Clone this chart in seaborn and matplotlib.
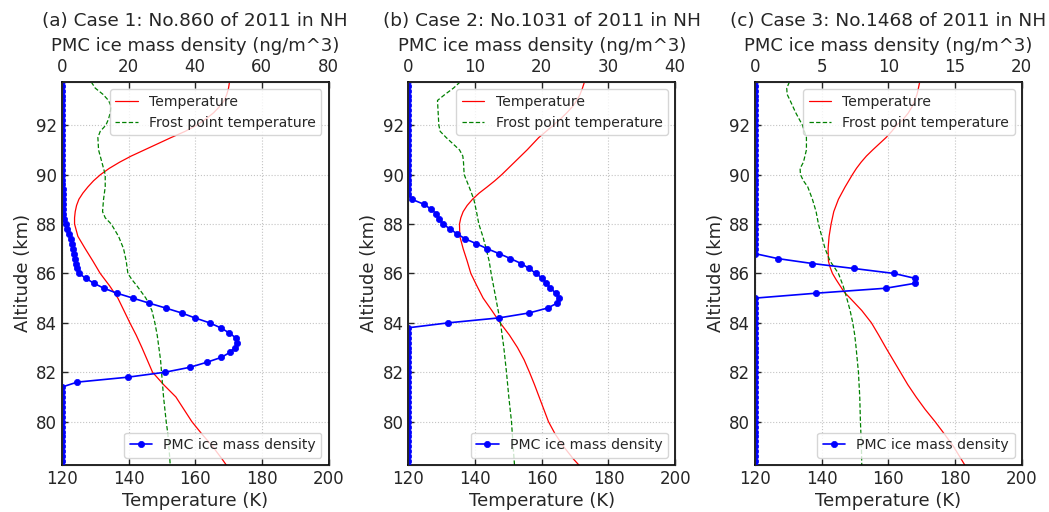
import numpy as np
import pandas as pd
import matplotlib
matplotlib.use("Agg")
import matplotlib.pyplot as plt
import seaborn as sns

# ---------------------------------------------------------------- data
titles = [
    "(a) Case 1: No.860 of 2011 in NH",
    "(b) Case 2: No.1031 of 2011 in NH",
    "(c) Case 3: No.1468 of 2011 in NH",
]
ice_xmax = [80, 40, 20]
ice_xticks = [[0, 20, 40, 60, 80], [0, 10, 20, 30, 40], [0, 5, 10, 15, 20]]
temp_xticks = [120, 140, 160, 180, 200]
alt_ticks = [80, 82, 84, 86, 88, 90, 92]

# Case 1 temperature profile (K)
alt_t1 = [93.75, 93.5, 93.25, 93.0, 92.75, 92.5, 92.25, 92.0, 91.75, 91.5, 91.25, 91.0,
          90.75, 90.5, 90.25, 90.0, 89.75, 89.5, 89.25, 89.0, 88.75, 88.5, 88.25,
          88.0, 87.5, 87.0, 86.5, 86.0, 85.5, 85.0, 84.5, 84.0, 83.5, 83.0, 82.5,
          82.0, 81.5, 81.0, 80.5, 80.0, 79.5, 79.0, 78.5, 78.25]
temp1 = [170.3, 170.0, 169.5, 168.7, 167.3, 165.5, 163.2, 160.5, 157.0, 152.8, 148.8, 144.8,
         140.8, 137.3, 134.2, 131.6, 129.5, 127.8, 126.3, 125.1, 124.4, 124.0, 123.8,
         123.8, 124.8, 127.0, 129.3, 131.5, 134.3, 136.8, 138.6, 140.4, 142.3, 144.0, 145.6,
         147.2, 150.5, 154.2, 156.6, 159.0, 162.0, 165.2, 168.0, 169.3]
# Case 1 frost point temperature (K)
alt_f1 = [93.75, 93.5, 93.25, 93.0, 92.75, 92.5, 92.25, 92.0, 91.75, 91.5, 91.0, 90.5,
          90.0, 89.5, 89.0, 88.5, 88.25, 88.0, 87.5, 87.0, 86.5, 86.0, 85.75, 85.5,
          85.0, 84.5, 84.0, 83.5, 83.0, 82.5, 82.0, 81.5, 81.0, 80.5, 80.0, 79.5,
          79.0, 78.25]
frost1 = [128.8, 130.0, 132.3, 134.0, 134.8, 134.5, 134.0, 133.2, 131.5, 130.8, 131.0, 132.0,
          133.0, 133.0, 132.5, 132.2, 133.0, 134.8, 137.0, 138.5, 139.3, 139.8, 141.0, 142.5,
          145.2, 147.0, 147.9, 148.6, 149.1, 149.6, 149.9, 150.2, 150.5, 150.9, 151.3, 151.8,
          152.1, 152.5]
# Case 1 PMC ice mass density (ng/m^3), non-zero part of the profile
alt_i1 = [81.6, 81.8, 82.0, 82.2, 82.4, 82.6, 82.8, 83.0, 83.2, 83.4, 83.6, 83.8,
          84.0, 84.2, 84.4, 84.6, 84.8, 85.0, 85.2, 85.4, 85.6, 85.8, 86.0, 86.2,
          86.4, 86.6, 86.8, 87.0, 87.2, 87.4, 87.6, 87.8, 88.0, 88.2, 88.4, 88.6,
          88.8, 89.0, 89.2, 89.4, 89.6, 89.8]
ice1 = [4.6, 19.8, 30.9, 38.4, 43.4, 47.8, 50.4, 51.9, 52.6, 52.1, 50.1, 47.6,
        44.3, 39.9, 35.9, 31.1, 26.1, 21.3, 16.5, 12.6, 9.6, 7.2, 5.1, 4.6,
        4.3, 4.0, 3.7, 3.4, 3.0, 2.6, 2.1, 1.6, 1.1, 0.6, 0.4, 0.3,
        0.3, 0.2, 0.2, 0.2, 0.1, 0.1]

# Case 2 temperature profile (K)
alt_t2 = [93.75, 93.5, 93.25, 93.0, 92.75, 92.5, 92.25, 92.0, 91.5, 91.0, 90.5, 90.0,
          89.75, 89.5, 89.25, 89.0, 88.75, 88.5, 88.25, 88.0, 87.5, 87.0, 86.5, 86.0,
          85.5, 85.0, 84.5, 84.0, 83.5, 83.0, 82.5, 82.0, 81.5, 81.0, 80.5, 80.0,
          79.5, 79.0, 78.5, 78.25]
temp2 = [172.8, 172.2, 171.5, 170.5, 169.2, 167.5, 165.6, 163.5, 159.1, 155.6, 151.8, 148.0,
         145.9, 143.6, 141.2, 139.2, 137.6, 136.4, 135.7, 135.3, 135.4, 136.4, 137.6, 138.7,
         140.5, 142.4, 145.0, 147.5, 150.3, 152.7, 154.7, 156.3, 157.8, 159.2, 160.6, 162.0,
         164.0, 166.5, 169.4, 171.1]
# Case 2 frost point temperature (K)
alt_f2 = [93.75, 93.5, 93.25, 93.0, 92.5, 92.0, 91.75, 91.5, 91.0, 90.75, 90.5, 90.0,
          89.5, 89.0, 88.5, 88.0, 87.5, 87.0, 86.5, 86.0, 85.0, 84.0, 83.0, 82.0,
          81.0, 80.0, 79.0, 78.25]
frost2 = [135.5, 133.5, 131.0, 128.7, 128.9, 129.1, 129.5, 131.3, 135.3, 136.3, 136.5, 136.7,
          138.2, 139.6, 140.4, 141.1, 142.3, 143.3, 144.2, 144.8, 146.2, 147.6, 148.6, 149.4,
          150.1, 150.9, 151.4, 151.8]
# Case 2 PMC ice mass density (ng/m^3)
alt_i2 = [84.0, 84.2, 84.4, 84.6, 84.8, 85.0, 85.2, 85.4, 85.6, 85.8, 86.0, 86.2,
          86.4, 86.6, 86.8, 87.0, 87.2, 87.4, 87.6, 87.8, 88.0, 88.2, 88.4, 88.6,
          88.8, 89.0]
ice2 = [6.0, 13.6, 18.1, 20.9, 22.3, 22.6, 22.1, 21.3, 20.7, 20.1, 19.1, 18.1,
        16.9, 15.3, 13.6, 11.8, 10.2, 8.5, 7.3, 6.2, 5.2, 4.6, 4.2, 3.4,
        2.3, 0.5]

# Case 3 temperature profile (K)
alt_t3 = [93.75, 93.5, 93.25, 93.0, 92.75, 92.5, 92.25, 92.0, 91.75, 91.5, 91.25, 91.0,
          90.75, 90.5, 90.25, 90.0, 89.5, 89.0, 88.5, 88.0, 87.5, 87.0, 86.5, 86.25,
          86.0, 85.75, 85.5, 85.25, 85.0, 84.5, 84.0, 83.5, 83.0, 82.5, 82.0, 81.5,
          81.0, 80.5, 80.0, 79.5, 79.0, 78.25]
temp3 = [169.4, 169.0, 168.6, 167.9, 167.1, 166.0, 164.5, 162.5, 161.0, 159.3, 157.3, 155.3,
         153.4, 151.8, 150.4, 149.2, 147.0, 145.0, 143.6, 142.8, 142.2, 141.9, 142.0, 142.5,
         143.2, 144.3, 145.5, 146.7, 148.5, 152.0, 154.9, 157.1, 159.2, 161.4, 163.6, 165.8,
         168.3, 171.0, 174.0, 176.8, 179.5, 182.9]
# Case 3 frost point temperature (K)
alt_f3 = [93.75, 93.5, 93.25, 93.0, 92.5, 92.0, 91.5, 91.0, 90.5, 90.25, 90.0, 89.75,
          89.5, 89.0, 88.5, 88.0, 87.5, 87.0, 86.5, 86.0, 85.5, 85.0, 84.5, 84.0,
          83.5, 83.0, 82.0, 81.0, 80.0, 79.0, 78.25]
frost3 = [130.3, 129.5, 129.6, 130.5, 132.2, 134.2, 135.4, 135.4, 134.5, 133.5, 133.6, 134.5,
          135.8, 137.2, 138.3, 139.0, 140.0, 141.0, 142.5, 145.0, 146.4, 147.5, 148.5, 149.3,
          149.9, 150.3, 151.0, 151.4, 151.6, 151.9, 152.0]
# Case 3 PMC ice mass density (ng/m^3)
alt_i3 = [85.2, 85.4, 85.6, 85.8, 86.0, 86.2, 86.4, 86.6]
ice3 = [4.6, 9.8, 12.0, 12.0, 10.4, 7.4, 4.3, 1.7]

# retrieval altitude grid (km) of the ice profiles; density is zero outside the layer
ice_grid = np.round(np.arange(78.2, 93.81, 0.2), 1)

cases = [
    (alt_t1, temp1, alt_f1, frost1, alt_i1, ice1),
    (alt_t2, temp2, alt_f2, frost2, alt_i2, ice2),
    (alt_t3, temp3, alt_f3, frost3, alt_i3, ice3),
]

# ---------------------------------------------------------------- style
sns.set_style("ticks")
plt.rcParams["font.family"] = ["DejaVu Sans"]
plt.rcParams["xtick.direction"] = "in"
plt.rcParams["ytick.direction"] = "in"

fig, axes = plt.subplots(1, 3, figsize=(10.49, 5.12), dpi=100)
fig.subplots_adjust(left=0.059, right=0.974, top=0.840, bottom=0.092, wspace=0.30)

for i, ax in enumerate(axes):
    alt_t, temp, alt_f, frost, alt_i, ice = cases[i]

    layer = dict(zip(alt_i, ice))
    ice_df = pd.DataFrame({
        "alt": ice_grid,
        "ice": [layer.get(a, 0.0) for a in ice_grid],
    }).sort_values("alt", ascending=False)

    t_df = pd.DataFrame({"alt": alt_t, "temp": temp})
    f_df = pd.DataFrame({"alt": alt_f, "frost": frost})

    sns.lineplot(data=t_df, x="temp", y="alt", ax=ax, sort=False, estimator=None,
                 color="red", lw=0.9, label="Temperature", legend=False)
    sns.lineplot(data=f_df, x="frost", y="alt", ax=ax, sort=False, estimator=None,
                 color="green", lw=0.9, linestyle="--", dashes=False,
                 label="Frost point temperature", legend=False)
    ax.lines[-1].set_linestyle((0, (3.5, 1.8)))

    ax.set_xlim(120, 200)
    ax.set_ylim(78.25, 93.75)
    ax.set_xticks(temp_xticks)
    ax.set_yticks(alt_ticks)
    ax.set_xlabel("Temperature (K)", fontsize=13, labelpad=3)
    ax.set_ylabel("Altitude (km)", fontsize=13, labelpad=3)
    ax.tick_params(labelsize=12, length=4.5, width=1, direction="in")
    ax.grid(True, linestyle=":", color="#c4c4c4", lw=0.8)
    for s in ax.spines.values():
        s.set_linewidth(1.2)
        s.set_color("black")
    ax.legend(loc="upper right", fontsize=10.1, handlelength=1.6)

    ax2 = ax.twiny()
    sns.lineplot(data=ice_df, x="ice", y="alt", ax=ax2, sort=False, estimator=None,
                 color="blue", lw=1.2, marker="o", markersize=4.5,
                 markeredgecolor="blue", markeredgewidth=0.5,
                 label="PMC ice mass density", legend=False)
    ax2.set_xlim(0, ice_xmax[i])
    ax2.set_xticks(ice_xticks[i])
    ax2.set_ylim(78.25, 93.75)
    ax2.set_xlabel("PMC ice mass density (ng/m^3)", fontsize=13, labelpad=5)
    ax2.tick_params(labelsize=12, length=4.5, width=1, direction="in", pad=4)
    ax2.legend(loc="lower right", fontsize=10.1, handlelength=1.6)
    ax.set_title(titles[i], fontsize=13.3, pad=8)

fig.savefig("out.png", dpi=100)
